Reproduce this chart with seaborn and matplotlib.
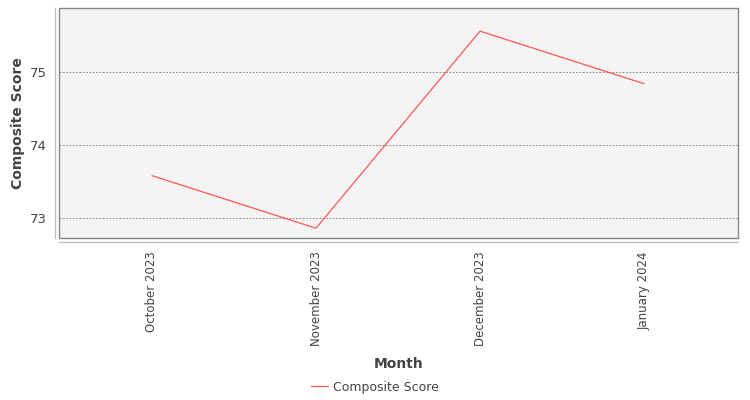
import matplotlib
matplotlib.use("Agg")
import matplotlib.pyplot as plt
import seaborn as sns
import pandas as pd
from matplotlib.patches import Rectangle

months = ["October 2023", "November 2023", "December 2023", "January 2024"]
scores = [73.58, 72.86, 75.56, 74.84]
series_name = "Composite Score"

df = pd.DataFrame({"Month": months, "Score": scores, "Series": series_name})

sns.set_style("white")
plt.rcParams['font.family'] = ['DejaVu Sans']

fig = plt.figure(figsize=(7.5, 4), dpi=100)
ax = fig.add_axes([59/750, 1 - 238/400, (738-59)/750, (238-8)/400])
ax.set_facecolor("#f4f4f4")

sns.lineplot(data=df, x="Month", y="Score", hue="Series", palette=["#ff5555"],
             linewidth=0.9, ax=ax, sort=False)

ax.set_xlim(-0.567, 3.573)
ax.set_ylim(72.726, 75.877)
ax.set_yticks([73, 74, 75])
ax.yaxis.grid(True, color="#777777", linestyle=(0, (2, 2)), linewidth=0.6)
ax.xaxis.grid(False)

for s in ["top", "right"]:
    ax.spines[s].set_visible(False)
for s in ["left", "bottom"]:
    ax.spines[s].set_position(("outward", 3))
    ax.spines[s].set_color("#c0c0c0")
    ax.spines[s].set_linewidth(1.0)

ax.add_patch(Rectangle((0, 0), 1, 1, transform=ax.transAxes, fill=False,
                       edgecolor="#888888", linewidth=1.0, clip_on=False, zorder=5))

ax.tick_params(axis="both", colors="#c0c0c0", labelcolor="#444444", labelsize=8.5,
               length=3, width=1, direction="out")
ax.tick_params(axis="y", labelsize=9.5, pad=3)
plt.setp(ax.get_xticklabels(), rotation=90)

ax.set_xlabel("Month", fontsize=10, fontweight="bold", color="#444444")
ax.set_ylabel("Composite Score", fontsize=10, fontweight="bold", color="#444444")
ax.xaxis.set_label_coords(0.5, -0.517)
ax.yaxis.set_label_coords(-0.050, 0.5)

leg = ax.legend(loc="center", bbox_to_anchor=(0.5, 400 - 387), bbox_transform=fig.transFigure,
                frameon=False, fontsize=9, handlelength=1.3, handletextpad=0.4)
leg.set_bbox_to_anchor((0.5, 13 / 400), transform=fig.transFigure)
for t in leg.get_texts():
    t.set_color("#444444")

fig.savefig("out.png", dpi=100)
